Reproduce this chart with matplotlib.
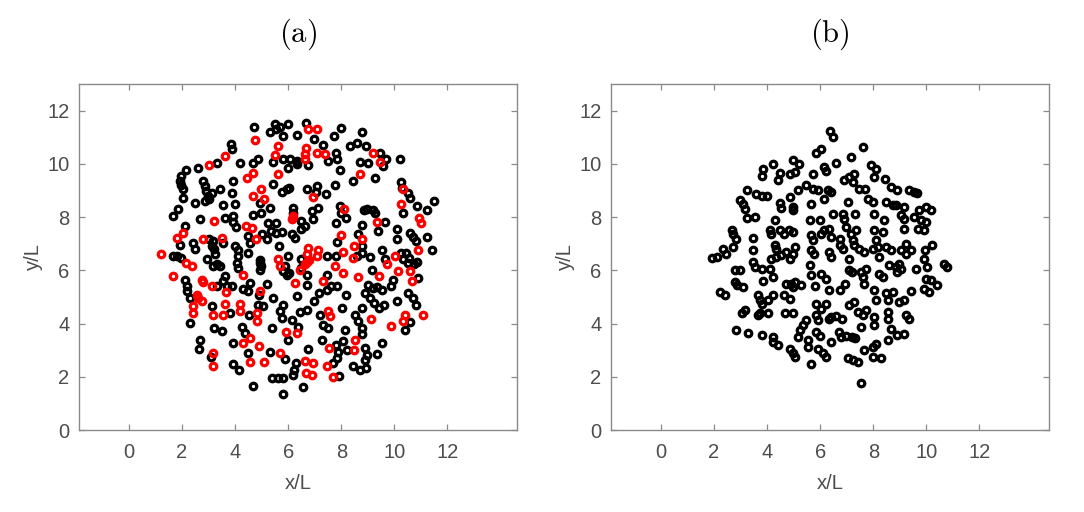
import numpy as np
import matplotlib
matplotlib.use("Agg")
import matplotlib.pyplot as plt

# =========================
# data (x/L, y/L)
# =========================
A_BLACK = [
    (4.72, 11.37), (5.3, 11.2), (5.5, 11.5), (5.55, 11.3), (5.7, 11.4), (6.0, 11.5),
    (6.66, 11.53), (8.0, 11.33), (8.8, 11.2), (5.8, 11.03), (6.34, 11.08), (6.97, 10.93),
    (7.32, 10.7), (7.72, 11.03), (8.33, 10.68), (8.58, 10.8), (3.83, 10.74), (3.87, 10.55),
    (7.8, 10.4), (7.85, 10.17), (8.93, 10.68), (9.46, 10.4), (9.7, 10.17), (9.56, 9.92),
    (10.2, 10.17), (3.3, 10.05), (4.18, 10.05), (4.68, 10.03), (4.87, 10.2), (5.44, 10.08),
    (5.79, 10.17), (6.07, 10.2), (6.34, 10.11), (6.0, 9.86), (6.34, 9.99), (6.76, 9.96),
    (7.51, 10.11), (7.95, 9.77), (8.7, 10.08), (9.02, 10.05), (8.45, 9.36), (9.27, 9.48),
    (2.61, 9.86), (2.15, 9.77), (1.98, 9.55), (1.92, 9.36), (1.98, 9.2), (3.93, 9.36),
    (3.43, 9.05), (5.44, 9.23), (5.75, 8.94), (5.94, 9.05), (6.04, 9.11), (6.7, 9.07),
    (7.07, 9.17), (7.05, 8.94), (7.77, 9.2), (7.41, 8.86), (2.8, 9.36), (2.86, 9.17),
    (2.92, 8.98), (2.98, 8.79), (2.88, 8.6), (3.12, 8.92), (3.02, 8.67), (2.05, 9.07),
    (3.87, 8.92), (4.94, 8.52), (5.31, 8.35), (2.49, 8.54), (2.02, 8.73), (3.56, 8.44),
    (4.0, 8.48), (1.86, 8.29), (1.67, 8.04), (2.68, 7.92), (3.62, 7.98), (3.93, 8.04),
    (3.93, 7.81), (4.03, 7.64), (4.68, 8.07), (4.96, 8.17), (5.25, 7.76), (5.54, 7.79),
    (6.19, 8.35), (6.19, 8.17), (6.5, 7.85), (6.95, 7.91), (6.88, 8.23), (7.14, 8.35),
    (7.95, 8.42), (8.0, 8.17), (8.18, 7.98), (7.8, 7.76), (8.84, 8.27), (8.98, 8.32),
    (9.18, 8.27), (9.27, 8.17), (8.8, 7.69), (9.65, 7.81), (9.4, 7.47), (10.09, 7.54),
    (10.11, 7.19), (10.24, 9.3), (10.28, 9.11), (10.53, 8.92), (10.59, 8.73), (10.87, 8.42),
    (10.34, 8.17), (11.24, 8.27), (11.49, 8.6), (11.24, 7.26), (10.59, 7.41), (10.72, 7.26),
    (10.82, 7.1), (11.41, 6.78), (10.45, 6.66), (10.55, 6.47), (10.5, 6.28), (10.75, 6.22),
    (10.24, 6.66), (10.34, 6.41), (10.87, 6.3), (10.9, 5.72), (10.53, 5.15), (10.72, 4.96),
    (10.82, 4.71), (10.09, 4.84), (10.59, 4.05), (10.4, 3.77), (9.86, 5.4), (9.96, 5.65),
    (9.52, 6.78), (9.65, 6.41), (9.14, 6.03), (9.08, 6.5), (8.77, 6.66), (8.58, 6.53),
    (8.77, 6.91), (8.62, 7.35), (7.85, 7.06), (7.8, 6.53), (7.45, 6.53), (9.02, 5.46),
    (9.2, 5.34), (9.36, 5.38), (9.52, 5.28), (8.9, 5.15), (9.1, 4.96), (9.24, 4.77),
    (9.43, 4.58), (9.62, 4.71), (8.77, 4.58), (8.64, 4.08), (8.77, 3.83), (8.77, 3.62),
    (8.52, 4.33), (8.14, 3.77), (8.01, 4.58), (8.16, 5.09), (7.45, 5.28), (7.6, 5.4),
    (7.85, 5.4), (7.2, 4.33), (7.32, 3.96), (7.51, 3.83), (7.26, 3.39), (7.8, 3.2),
    (7.89, 2.95), (7.83, 2.7), (7.7, 2.51), (8.06, 3.33), (8.22, 3.02), (8.9, 3.08),
    (8.96, 2.83), (8.9, 2.64), (9.52, 3.27), (9.33, 2.86), (8.45, 2.39), (8.7, 2.26),
    (8.93, 2.32), (7.93, 2.04), (6.29, 2.51), (6.22, 2.26), (6.19, 2.07), (6.54, 1.61),
    (5.79, 1.36), (5.79, 1.95), (5.63, 1.95), (5.38, 1.95), (4.68, 1.66), (5.88, 2.66),
    (5.31, 2.95), (4.5, 2.89), (3.93, 2.49), (4.16, 2.26), (3.08, 2.76), (2.68, 3.39),
    (2.65, 3.04), (3.93, 3.27), (4.37, 3.64), (4.25, 3.89), (3.2, 3.83), (3.49, 3.71),
    (2.3, 4.02), (3.12, 4.67), (3.81, 4.4), (4.53, 4.33), (4.87, 4.71), (5.06, 4.67),
    (5.44, 4.96), (5.38, 3.83), (5.82, 4.71), (5.69, 4.46), (5.75, 4.21), (6.13, 4.15),
    (6.0, 3.39), (6.38, 3.89), (6.34, 5.05), (6.45, 4.42), (6.7, 4.52), (6.97, 4.84),
    (6.76, 3.04), (5.82, 5.97), (5.94, 5.84), (6.04, 5.9), (5.88, 6.16), (6.0, 6.53),
    (5.67, 6.91), (5.22, 5.49), (4.91, 5.09), (4.56, 5.53), (4.92, 6.4), (4.94, 6.28),
    (4.96, 6.16), (4.94, 6.03), (4.31, 5.3), (4.5, 5.21), (3.62, 5.78), (3.56, 5.59),
    (3.69, 5.4), (3.87, 5.43), (3.3, 5.4), (2.93, 6.41), (3.17, 6.16), (3.3, 6.22),
    (3.43, 6.16), (3.25, 6.6), (3.21, 6.79), (3.12, 6.91), (3.15, 7.1), (3.03, 7.19),
    (3.56, 7.03), (4.0, 6.91), (4.12, 6.78), (4.12, 6.53), (4.06, 6.28), (4.12, 6.09),
    (4.5, 6.66), (2.4, 7.03), (2.49, 6.81), (2.11, 7.66), (1.92, 6.97), (1.67, 6.53),
    (1.8, 6.53), (1.98, 6.47), (2.11, 5.65), (2.18, 5.4), (2.2, 5.21), (2.3, 4.96),
    (4.47, 7.29), (4.56, 7.03), (5.0, 7.35), (5.19, 7.16), (5.34, 7.47), (5.54, 7.41),
    (5.75, 7.44), (6.13, 7.35), (6.26, 7.22), (6.5, 7.54), (6.63, 7.66), (6.5, 6.41),
    (6.7, 5.84), (6.47, 6.09), (7.45, 5.84), (7.17, 5.15), (6.7, 5.46),
]

A_RED = [
    (6.76, 11.3), (7.07, 11.3), (4.75, 10.9), (5.63, 10.68), (6.67, 10.6), (6.63, 10.36),
    (3.62, 10.28), (5.5, 10.33), (7.07, 10.4), (7.39, 10.36), (9.2, 10.4), (9.46, 10.08),
    (3.03, 9.96), (6.63, 10.17), (8.7, 9.61), (4.68, 9.67), (4.43, 9.48), (5.63, 9.61),
    (4.96, 9.07), (6.95, 8.77), (4.68, 8.79), (5.09, 8.69), (3.2, 7.85), (6.19, 8.04),
    (6.16, 7.91), (8.1, 8.29), (9.33, 7.81), (10.24, 8.48), (10.34, 9.07), (10.94, 7.98),
    (10.99, 7.76), (10.9, 6.78), (10.03, 6.53), (10.15, 5.97), (10.65, 5.59), (10.59, 5.97),
    (11.09, 4.33), (10.4, 4.33), (10.34, 4.08), (9.87, 3.92), (9.71, 6.22), (9.43, 5.8),
    (8.48, 6.91), (8.45, 6.47), (8.8, 7.19), (8.0, 7.31), (8.08, 6.68), (7.77, 6.16),
    (8.08, 5.9), (8.62, 5.75), (9.12, 4.18), (7.51, 4.46), (7.57, 4.27), (7.54, 3.08),
    (8.52, 3.39), (8.48, 2.99), (7.45, 2.39), (7.7, 1.98), (6.88, 2.07), (6.67, 2.14),
    (6.63, 2.58), (6.95, 2.51), (5.69, 2.89), (5.09, 2.54), (4.56, 2.54), (3.15, 2.89),
    (3.15, 2.39), (4.31, 3.27), (4.56, 3.45), (4.91, 3.17), (3.17, 4.33), (3.55, 4.33),
    (3.62, 4.75), (4.18, 4.75), (4.18, 4.46), (4.81, 4.4), (4.81, 4.08), (5.92, 3.67),
    (6.32, 3.64), (6.26, 5.53), (5.63, 6.41), (5.69, 6.16), (4.94, 5.21), (4.28, 5.84),
    (3.65, 5.18), (3.12, 5.4), (2.74, 5.65), (2.78, 5.55), (2.78, 7.16), (3.49, 7.22),
    (2.05, 7.41), (1.8, 7.22), (1.21, 6.6), (2.15, 6.28), (2.36, 6.16), (1.65, 5.78),
    (2.55, 5.09), (2.61, 4.96), (2.74, 4.84), (2.42, 4.65), (2.43, 4.4), (4.4, 7.66),
    (4.62, 7.6), (4.78, 7.19), (6.76, 6.85), (6.7, 6.63), (6.62, 6.22), (6.7, 6.3),
    (6.78, 6.4), (6.45, 6.03), (7.14, 6.78), (7.07, 6.53), (7.32, 5.59),
]

B_BLACK = [
    (6.38, 11.23), (6.48, 11.0), (7.63, 10.63), (5.85, 10.4), (6.04, 10.56), (7.16, 10.25),
    (4.98, 10.15), (5.2, 10.0), (4.23, 10.0), (3.85, 9.81), (3.79, 9.56), (4.48, 9.65),
    (4.41, 9.38), (4.85, 9.6), (5.04, 9.69), (6.16, 9.88), (6.23, 9.73), (6.6, 10.03),
    (5.73, 9.6), (6.91, 9.38), (7.1, 9.5), (7.29, 9.63), (7.23, 9.31), (7.91, 9.94),
    (8.1, 9.81), (8.04, 9.5), (8.45, 9.44), (8.66, 9.13), (8.91, 9.03), (9.35, 9.0),
    (9.54, 8.94), (9.66, 8.9), (3.23, 9.03), (3.6, 8.88), (3.79, 8.81), (3.98, 8.81),
    (2.98, 8.63), (3.1, 8.48), (3.16, 8.31), (4.48, 8.53), (4.54, 8.35), (4.85, 8.75),
    (4.98, 8.38), (4.98, 8.25), (5.16, 9.0), (5.48, 9.19), (5.73, 9.06), (5.91, 9.0),
    (6.29, 9.03), (6.41, 8.94), (6.16, 8.69), (5.66, 8.5), (7.04, 8.56), (7.48, 9.06),
    (7.7, 9.06), (7.79, 8.69), (7.98, 8.56), (8.48, 8.56), (8.73, 8.44), (8.85, 8.44),
    (9.16, 8.38), (9.73, 8.28), (9.98, 8.38), (10.16, 8.28), (6.85, 8.13), (6.91, 7.94),
    (6.48, 8.13), (7.33, 8.13), (8.04, 8.13), (8.41, 7.88), (9.04, 8.06), (9.16, 7.94),
    (9.16, 7.56), (9.54, 8.0), (9.79, 7.88), (9.98, 7.81), (9.7, 7.56), (9.91, 7.5),
    (3.23, 7.98), (3.54, 8.0), (4.29, 7.9), (5.6, 7.88), (5.98, 7.88), (2.66, 7.53),
    (2.73, 7.38), (2.83, 7.19), (3.48, 7.23), (4.1, 7.5), (4.16, 7.38), (4.48, 7.5),
    (4.63, 7.38), (4.83, 7.5), (4.98, 7.44), (5.66, 7.31), (5.73, 7.13), (6.04, 7.38),
    (6.16, 7.5), (6.35, 7.56), (6.41, 7.25), (6.73, 7.19), (6.98, 7.63), (7.16, 7.38),
    (7.23, 7.13), (7.35, 7.53), (8.04, 7.5), (8.1, 7.13), (8.35, 7.44), (9.23, 7.0),
    (10.23, 6.94), (9.95, 6.78), (9.91, 6.44), (2.73, 6.88), (2.35, 6.81), (2.45, 6.63),
    (1.91, 6.48), (2.1, 6.5), (3.48, 6.75), (4.29, 6.94), (4.35, 6.81), (4.16, 6.44),
    (4.33, 6.5), (4.54, 6.56), (4.73, 6.69), (4.85, 6.44), (5.04, 6.88), (4.98, 6.63),
    (5.66, 6.75), (5.75, 6.63), (6.35, 6.69), (6.41, 6.5), (6.73, 6.94), (6.85, 6.81),
    (7.1, 6.44), (7.29, 6.94), (7.48, 6.81), (7.66, 6.69), (7.98, 6.81), (8.16, 6.88),
    (8.48, 6.88), (8.66, 6.75), (8.23, 6.5), (9.04, 6.75), (9.23, 6.63), (9.41, 6.75),
    (8.6, 6.19), (8.85, 6.13), (8.98, 6.25), (8.91, 5.94), (9.04, 6.06), (9.6, 6.06),
    (10.04, 6.13), (10.66, 6.25), (10.79, 6.13), (3.48, 6.31), (3.54, 6.13), (3.79, 6.06),
    (4.1, 6.06), (2.8, 6.03), (2.98, 6.0), (5.6, 6.19), (6.04, 5.88), (6.23, 5.69),
    (5.66, 5.81), (7.08, 6.0), (7.2, 5.94), (7.54, 5.94), (7.73, 6.06), (7.6, 5.75),
    (7.66, 5.5), (8.23, 5.88), (8.35, 5.75), (9.98, 5.69), (10.16, 5.63), (10.41, 5.44),
    (2.8, 5.56), (2.85, 5.44), (3.1, 5.38), (3.85, 5.6), (4.23, 5.75), (4.73, 5.5),
    (4.91, 5.5), (5.04, 5.56), (4.98, 5.38), (5.29, 5.44), (5.79, 5.4), (6.33, 5.25),
    (6.73, 5.25), (6.95, 5.5), (8.04, 5.25), (8.48, 5.13), (8.73, 5.19), (8.54, 4.88),
    (9.41, 5.23), (9.91, 5.31), (10.1, 5.19), (2.23, 5.19), (2.41, 5.06), (3.66, 5.06),
    (3.73, 4.88), (3.79, 4.75), (4.23, 5.06), (4.04, 4.88), (4.63, 5.06), (4.85, 4.94),
    (8.1, 4.88), (8.98, 4.81), (9.16, 4.9), (5.85, 4.73), (6.04, 4.56), (6.23, 4.75),
    (7.1, 4.69), (7.29, 4.81), (3.04, 4.4), (3.16, 4.5), (3.66, 4.31), (3.73, 4.38),
    (4.04, 4.38), (4.66, 4.38), (4.98, 4.38), (5.85, 4.31), (5.91, 4.13), (6.41, 4.25),
    (6.6, 4.28), (6.83, 4.19), (7.41, 4.44), (7.6, 4.31), (7.73, 4.5), (8.04, 4.25),
    (8.04, 3.94), (8.54, 4.44), (8.54, 4.19), (9.23, 4.31), (9.35, 4.19), (5.48, 4.13),
    (5.35, 3.94), (5.23, 3.75), (6.33, 4.19), (7.54, 3.88), (8.66, 3.81), (2.83, 3.75),
    (3.29, 3.65), (3.79, 3.56), (4.23, 3.5), (4.23, 3.31), (4.41, 3.19), (5.83, 3.69),
    (5.98, 3.53), (6.7, 3.69), (6.79, 3.5), (6.98, 3.53), (7.2, 3.5), (7.33, 3.44),
    (6.41, 3.31), (8.1, 3.25), (7.98, 3.13), (8.54, 3.38), (8.91, 3.56), (9.16, 3.6),
    (5.16, 3.48), (5.54, 3.38), (5.54, 3.13), (4.85, 3.06), (4.98, 2.88), (5.04, 2.75),
    (5.91, 3.06), (6.1, 2.88), (6.23, 2.75), (7.66, 3.0), (7.98, 2.75), (8.29, 2.69),
    (7.04, 2.69), (7.23, 2.63), (7.41, 2.56), (5.65, 2.48), (7.54, 1.78),
]

PANEL_TITLES = ["(a)", "(b)"]
X_TICKS = [0, 2, 4, 6, 8, 10, 12]
Y_TICKS = [0, 2, 4, 6, 8, 10, 12]
XLIM = (-1.88, 14.62)
YLIM = (0, 13)

AXIS_GRAY = "#8a8a8a"
TEXT_GRAY = "#4d4d4d"

plt.rcParams["font.family"] = ["Liberation Sans", "DejaVu Sans"]
plt.rcParams["mathtext.fontset"] = "cm"


def draw_rings(ax, pts, color):
    arr = np.array(pts)
    ax.plot(arr[:, 0], arr[:, 1], linestyle="none", marker="o",
            markerfacecolor="none", markeredgecolor=color,
            markersize=4.7, markeredgewidth=2.3)


def style_axes(ax, title):
    ax.set_xlim(*XLIM)
    ax.set_ylim(*YLIM)
    ax.set_xticks(X_TICKS)
    ax.set_yticks(Y_TICKS)
    ax.tick_params(direction="in", length=4, width=0.9, color=AXIS_GRAY,
                   labelcolor=TEXT_GRAY, labelsize=14.5, top=True, right=True)
    ax.tick_params(axis="x", pad=9)
    ax.tick_params(axis="y", pad=7)
    for sp in ax.spines.values():
        sp.set_color(AXIS_GRAY)
        sp.set_linewidth(1.0)
    ax.set_xlabel("x/L", fontsize=14.5, color=TEXT_GRAY, va="center")
    ax.set_ylabel("y/L", fontsize=14.5, color=TEXT_GRAY, va="center")
    ax.xaxis.set_label_coords(0.5, -53 / 346)
    ax.yaxis.set_label_coords(-46 / 438, 0.5)
    ax.text(0.5, 1.0 + 50 / 346, r"$\mathrm{" + title + "}$", transform=ax.transAxes,
            ha="center", va="center", fontsize=22, color="black")


def main():
    fig = plt.figure(figsize=(10.84, 5.12), dpi=100)
    ax_a = fig.add_axes([0.0729, 0.160, 0.404, 0.676])
    ax_b = fig.add_axes([0.5637, 0.160, 0.404, 0.676])

    draw_rings(ax_a, A_BLACK, "black")
    draw_rings(ax_a, A_RED, "red")
    draw_rings(ax_b, B_BLACK, "black")

    style_axes(ax_a, PANEL_TITLES[0])
    style_axes(ax_b, PANEL_TITLES[1])

    fig.savefig("out.png", dpi=100, facecolor="white")
    plt.close(fig)


if __name__ == "__main__":
    main()
